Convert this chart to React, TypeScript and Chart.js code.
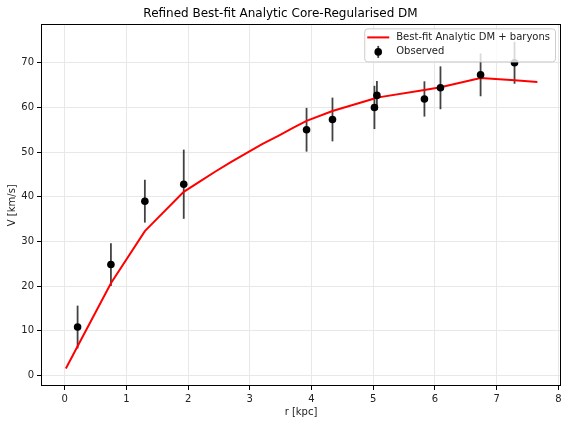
import React, { useEffect, useRef } from "react";
import { Chart, registerables } from "chart.js";

Chart.register(...registerables);

const titleText = "Refined Best-fit Analytic Core-Regularised DM";
const xLabel = "r [kpc]";
const yLabel = "V [km/s]";
const modelLabel = "Best-fit Analytic DM + baryons";
const obsLabel = "Observed";

const rObs = [0.21, 0.75, 1.30, 1.93, 3.92, 4.34, 5.02, 5.06, 5.83, 6.09, 6.74, 7.29];
const vObs = [10.8, 24.8, 39.0, 42.8, 55.0, 57.3, 60.0, 62.7, 61.9, 64.4, 67.3, 70.0];
const vErr = [4.8, 4.8, 4.8, 7.75, 4.9, 4.9, 4.85, 3.2, 3.95, 4.8, 4.8, 4.7];

const rModel = [0.02, 0.21, 0.75, 1.30, 1.93, 2.2, 2.45, 2.7, 2.96, 3.2, 3.47, 3.7, 3.92, 4.34, 5.02, 5.06, 5.83, 6.09, 6.74, 7.29, 7.66];
const vModel = [1.5, 6.5, 20.6, 32.3, 41.1, 43.5, 45.7, 47.8, 49.9, 51.8, 53.7, 55.4, 57.0, 59.2, 62.0, 62.2, 63.9, 64.5, 66.6, 66.1, 65.7];

const xTicks = [0, 1, 2, 3, 4, 5, 6, 7, 8];
const yTicks = [0, 10, 20, 30, 40, 50, 60, 70];

const FONT = "'DejaVu Sans', sans-serif";
const ERR_COLOR = "rgba(0,0,0,0.74)";

const errorBarPlugin = {
  id: "errorBars",
  beforeDatasetsDraw(chart: any) {
    const { ctx, scales } = chart;
    const xs = scales.x;
    const ys = scales.y;
    ctx.save();
    ctx.strokeStyle = ERR_COLOR;
    ctx.lineWidth = 1.8;
    for (let i = 0; i < rObs.length; i++) {
      const px = xs.getPixelForValue(rObs[i]);
      ctx.beginPath();
      ctx.moveTo(px, ys.getPixelForValue(vObs[i] - vErr[i]));
      ctx.lineTo(px, ys.getPixelForValue(vObs[i] + vErr[i]));
      ctx.stroke();
    }
    ctx.restore();
  },
};

const framePlugin = {
  id: "frameLegend",
  afterDraw(chart: any) {
    const { ctx, chartArea } = chart;
    const { left, right, top, bottom } = chartArea;
    ctx.save();
    ctx.strokeStyle = "#000";
    ctx.lineWidth = 1;
    ctx.strokeRect(Math.round(left) + 0.5, Math.round(top) + 0.5, Math.round(right - left) - 1, Math.round(bottom - top) - 1);

    ctx.font = `10px ${FONT}`;
    const tw = Math.max(ctx.measureText(modelLabel).width, ctx.measureText(obsLabel).width);
    const bw = tw + 37;
    const bx = right - 6 - bw;
    const by = top + 4;
    const bh = 33;
    ctx.beginPath();
    ctx.roundRect(bx + 0.5, by + 0.5, bw, bh, 3);
    ctx.fillStyle = "rgba(255,255,255,0.8)";
    ctx.fill();
    ctx.strokeStyle = "#cccccc";
    ctx.lineWidth = 1;
    ctx.stroke();

    const row1 = by + 9;
    const row2 = by + 23.5;
    ctx.strokeStyle = "red";
    ctx.lineWidth = 2;
    ctx.beginPath();
    ctx.moveTo(bx + 3, row1);
    ctx.lineTo(bx + 25, row1);
    ctx.stroke();

    const mx = bx + 14;
    ctx.strokeStyle = ERR_COLOR;
    ctx.lineWidth = 1.8;
    ctx.beginPath();
    ctx.moveTo(mx, row2 - 6);
    ctx.lineTo(mx, row2 + 6);
    ctx.stroke();
    ctx.fillStyle = "#000";
    ctx.beginPath();
    ctx.arc(mx, row2, 3.8, 0, Math.PI * 2);
    ctx.fill();

    ctx.fillStyle = "#222";
    ctx.textBaseline = "middle";
    ctx.textAlign = "left";
    ctx.fillText(modelLabel, bx + 32, row1);
    ctx.fillText(obsLabel, bx + 32, row2);
    ctx.restore();
  },
};

export default function App() {
  const ref = useRef<HTMLCanvasElement>(null);

  useEffect(() => {
    if (!ref.current) return;
    Chart.defaults.font.family = FONT;
    Chart.defaults.font.size = 10;
    Chart.defaults.color = "#222";

    const chart = new Chart(ref.current, {
      type: "scatter",
      data: {
        datasets: [
          {
            label: obsLabel,
            data: rObs.map((r, i) => ({ x: r, y: vObs[i] })),
            pointRadius: 3.8,
            pointHoverRadius: 3.8,
            pointBackgroundColor: "#000",
            pointBorderColor: "#000",
            pointBorderWidth: 0,
            showLine: false,
            order: 0,
          },
          {
            label: modelLabel,
            data: rModel.map((r, i) => ({ x: r, y: vModel[i] })),
            borderColor: "red",
            borderWidth: 2,
            pointRadius: 0,
            showLine: true,
            fill: false,
            tension: 0,
            order: 1,
          } as any,
        ],
      },
      options: {
        responsive: false,
        animation: false,
        devicePixelRatio: 1,
        layout: { padding: { left: 0, right: 7, top: 0, bottom: 0 } },
        plugins: {
          legend: { display: false },
          tooltip: { enabled: false },
          title: {
            display: true,
            text: titleText,
            color: "#000",
            font: { size: 12, weight: "normal", family: FONT },
            padding: { top: 7, bottom: 3 },
          },
        },
        scales: {
          x: {
            type: "linear",
            min: -0.383,
            max: 8.043,
            afterBuildTicks: (s: any) => {
              s.ticks = xTicks.map((v) => ({ value: v }));
            },
            afterFit: (s: any) => {
              s.height = 38;
            },
            ticks: { padding: 3, color: "#222", font: { size: 10 }, callback: (v: any) => String(v) },
            grid: { color: "#e8e8e8", lineWidth: 1, tickLength: 4, tickColor: "#000", tickWidth: 1 },
            border: { display: false },
            title: { display: true, text: xLabel, color: "#222", font: { size: 10 }, padding: { top: 0, bottom: 6 } },
          },
          y: {
            type: "linear",
            min: -2.4,
            max: 78.6,
            afterBuildTicks: (s: any) => {
              s.ticks = yTicks.map((v) => ({ value: v }));
            },
            afterFit: (s: any) => {
              s.width = 41;
            },
            ticks: { padding: 3, color: "#222", font: { size: 10 }, callback: (v: any) => String(v) },
            grid: { color: "#e8e8e8", lineWidth: 1, tickLength: 4, tickColor: "#000", tickWidth: 1 },
            border: { display: false },
            title: { display: true, text: yLabel, color: "#222", font: { size: 10 }, padding: { top: 6, bottom: 0 } },
          },
        },
      },
      plugins: [errorBarPlugin, framePlugin],
    });
    return () => chart.destroy();
  }, []);

  return (
    <div style={{ position: "fixed", left: 0, top: 0, width: 568, height: 424, background: "#fff" }}>
      <canvas ref={ref} width={568} height={424} />
    </div>
  );
}
